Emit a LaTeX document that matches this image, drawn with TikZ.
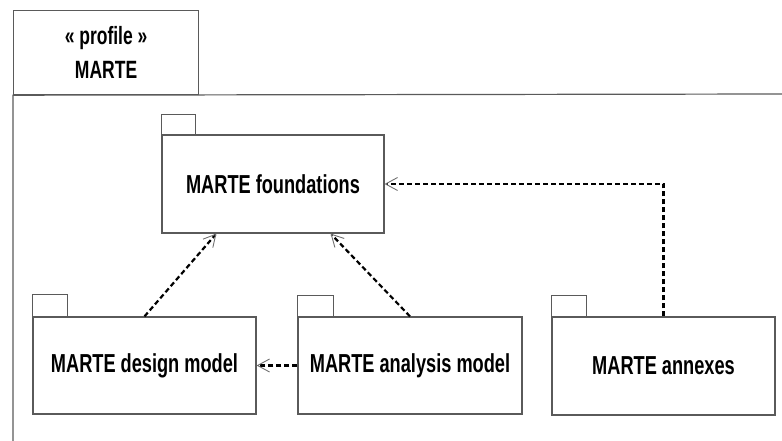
\documentclass[tikz,border=0pt]{standalone}
\usepackage{fontspec}
\setmainfont{Liberation Sans}[FakeStretch=0.70]
\usetikzlibrary{arrows.meta}
\definecolor{edgegray}{HTML}{5A5A5A}
\definecolor{tipgray}{HTML}{707070}
\tikzset{
  pkg/.style={draw=edgegray, line width=1.2pt, fill=white, inner sep=0pt,
    font=\fontsize{26}{30}\selectfont\bfseries},
  pkgtab/.style={draw=edgegray, line width=1.2pt},
  dep/.style={draw=black, line width=2.2pt, dash pattern=on 5pt off 3pt,
    -{Straight Barb[length=12pt, width=13pt, line width=0.9pt, color=tipgray]}},
}
\begin{document}
\begin{tikzpicture}[x=1pt, y=-1pt]
\useasboundingbox (0,0) rectangle (782,441);
% outer profile frame
\node[pkg, anchor=north west, minimum width=185pt, minimum height=84pt, align=center,
  font=\fontsize{25}{34}\selectfont\bfseries] (profile) at (13,10) {« profile »\\MARTE};
\draw[pkgtab] (13,441) -- (profile.south west) -- (782,94);
% packages
\node[pkg, minimum width=222pt, minimum height=98pt] (found) at (273,184) {MARTE foundations};
\draw[pkgtab] (found.north west) rectangle ++(34,-20);
\node[pkg, minimum width=223pt, minimum height=97pt] (design) at (144.5,365.5) {MARTE design model};
\draw[pkgtab] (design.north west) rectangle ++(35,-22);
\node[pkg, minimum width=224pt, minimum height=97pt] (analysis) at (410,365.5) {MARTE analysis model};
\draw[pkgtab] (analysis.north west) rectangle ++(36,-21);
\node[pkg, minimum width=223pt, minimum height=98pt] (annex) at (663.5,366) {MARTE annexes};
\draw[pkgtab] (annex.north west) rectangle ++(35,-21);
% dependencies
\coordinate (fA) at ([xshift=55pt]found.south west);
\coordinate (fB) at ([xshift=-54pt]found.south east);
\draw[dep] (design.north) -- (fA);
\draw[dep] (analysis.north) -- (fB);
\draw[dep] (analysis.west) -- (design.east);
\draw[dep] (annex.north) |- (found.east);
\end{tikzpicture}
\end{document}
